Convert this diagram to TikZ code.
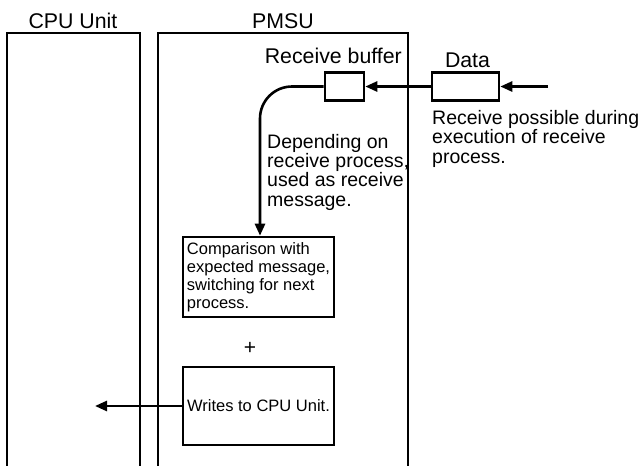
\documentclass[tikz,border=0pt]{standalone}
\usepackage{fontspec}
\setmainfont{Liberation Sans}
\usetikzlibrary{arrows.meta,positioning}
\tikzset{
  unitline/.style={line width=2.4pt},
  bufbox/.style={rectangle,draw,line width=2.6pt,inner sep=0pt,
                 minimum height=28pt},
  procbox/.style={rectangle,draw,line width=2.6pt,minimum width=151pt,
                  align=left,inner sep=4pt,
                  font=\fontsize{16.5}{18}\selectfont},
  title/.style={font=\fontsize{21.3}{22}\selectfont,inner sep=0pt},
  note/.style={font=\fontsize{19.5}{19.3}\selectfont,inner sep=0pt,
               align=left,anchor=base west},
  arr/.style={-{Triangle[length=12pt,width=10pt]},line width=2.6pt}
}
\begin{document}
\begin{tikzpicture}[x=1pt,y=-1pt]
  \useasboundingbox (0,0) rectangle (638,466);
  % the two units, open at the bottom
  \draw[unitline] (7,470) |- (140,33) -- (140,470);
  \draw[unitline] (158,470) |- (408,33) -- (408,470);
  \node[title,anchor=base] (cpulbl) at (73,28) {CPU Unit};
  \node[title,anchor=base] (pmsulbl) at (283,28) {PMSU};

  \node[bufbox,minimum width=39pt] (buf) at (344.5,86.5) {};
  \node[title,anchor=base east] (buflbl) at (402,63) {Receive buffer};
  \node[bufbox,minimum width=67pt] (data) at (465.5,86.5) {};
  \node[title,anchor=base] (datalbl) at (467.5,67) {Data};
  \coordinate (src) at (548,86.5);

  \node[procbox,minimum height=80pt] (cmp) at (258.5,277)
    {Comparison with\\expected message,\\switching for next\\process.};
  \node[font=\fontsize{21}{21}\selectfont,inner sep=0pt] (plus) at (250,348) {+};
  \node[procbox,minimum height=78pt] (wr) at (258.5,406) {Writes to CPU Unit.};
  \coordinate (cpuin) at (95,406);

  % base anchor of these sits on the last line
  \node[note] (usage) at (267,206)
    {Depending on\\receive process,\\used as receive\\message.};
  \node[note] (during) at (432,163)
    {Receive possible during\\execution of receive\\process.};

  \draw[arr] (src) -- (data.east);
  \draw[arr] (data.west) -- (buf.east);
  \draw[arr,rounded corners=32pt] (buf.west) -| ([xshift=1.5pt]cmp.north);
  \draw[arr] (wr.west) -- (cpuin);
\end{tikzpicture}
\end{document}
